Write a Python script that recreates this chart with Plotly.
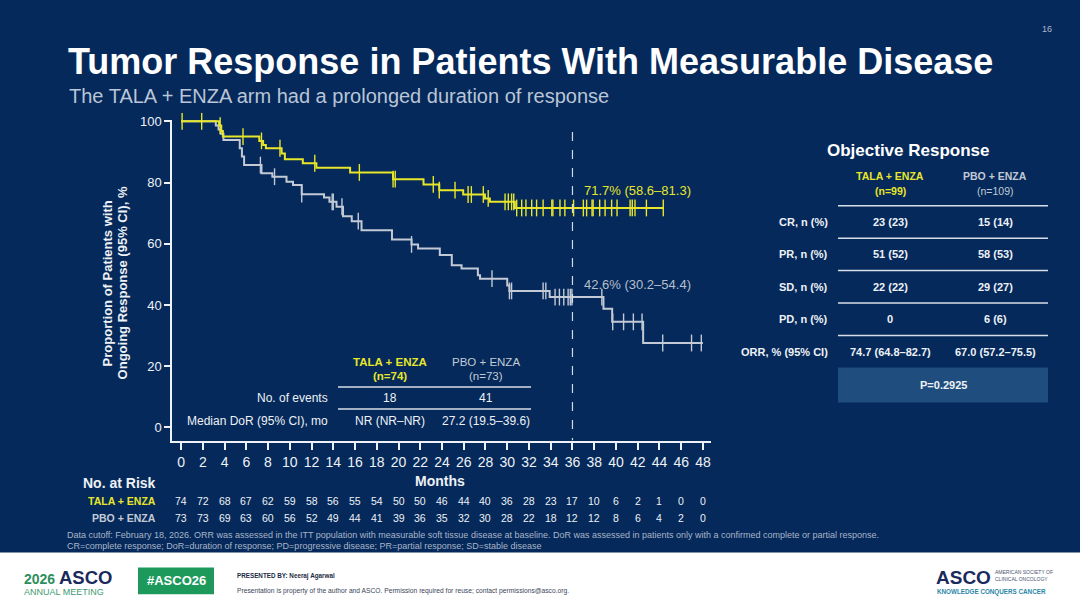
import numpy as np
import plotly.graph_objects as go

W, H = 1080, 608
FONT = "Liberation Sans, Arial, sans-serif"
BG = "#04295A"
YEL = "#E8E62A"
GRY = "#C3CAD6"
WHT = "#EEF1F6"

# ---------- 数据 ----------
months = list(range(0, 49, 2))

# TALA + ENZA：事件时间 / 事件后生存率，删失时间
tala_t = [3.5, 3.7, 3.85, 7.2, 7.55, 7.8, 9.25, 9.55, 11.2, 12.45, 15.55, 19.5,
          22.3, 23.75, 25.95, 27.95, 28.4, 30.7]
tala_s = [98.6, 96.8, 95.0, 93.6, 92.3, 91.2, 89.5, 87.6, 86.3, 84.8, 83.3, 81.1,
          79.4, 77.5, 76.1, 74.8, 73.7, 71.7]
tala_cens = [0.1, 1.9, 3.6, 5.7, 7.4, 9.1, 12.3, 16.4, 19.5, 19.7, 23.2, 23.75,
             25.2, 26.4, 26.7, 27.8, 28.25, 29.8, 30.1, 30.4, 30.6, 30.87, 31.33,
             31.72, 32.25, 32.7, 33.3, 34.1, 34.2, 34.85, 35.3, 36.1, 37.0, 37.3,
             37.8, 37.9, 38.5, 39.0, 39.6, 40.1, 41.3, 41.5, 41.75, 42.8, 44.35]
tala_end = 44.4

# PBO + ENZA
pbo_t = [3.2, 3.45, 3.65, 3.9, 5.4, 5.6, 5.8, 7.4, 8.4, 9.7, 10.3, 11.1, 13.15,
         13.65, 14.3, 14.9, 15.7, 16.6, 19.4, 21.2, 21.8, 23.8, 24.9, 25.8, 27.3,
         27.5, 30.0, 30.2, 33.9, 38.85, 39.65, 42.5]
pbo_s = [98.6, 97.3, 95.9, 93.9, 91.2, 88.5, 85.7, 83.0, 81.9, 80.3, 79.2, 76.2,
         75.1, 73.7, 72.1, 69.0, 67.4, 64.4, 61.4, 59.8, 58.5, 56.3, 53.0, 51.9,
         49.7, 48.6, 46.4, 44.6, 42.6, 38.8, 34.5, 27.6]
pbo_cens = [7.3, 8.6, 11.1, 13.9, 14.0, 14.8, 16.3, 21.2, 28.6, 30.2, 30.4, 33.3,
            33.55, 34.4, 34.8, 35.2, 35.6, 35.8, 35.95, 38.7, 39.7, 40.7, 41.6,
            42.4, 44.3, 46.95, 47.85]
pbo_end = 48.0

risk_tala = [74, 72, 68, 67, 62, 59, 58, 56, 55, 54, 50, 50, 46, 44, 40, 36, 28,
             23, 17, 10, 6, 2, 1, 0, 0]
risk_pbo = [73, 73, 69, 63, 60, 56, 52, 49, 44, 41, 39, 36, 35, 32, 30, 28, 22,
            18, 12, 12, 8, 6, 4, 2, 0]

dor_rows = ["No. of events", "Median DoR (95% CI), mo"]
dor_tala = ["18", "NR (NR\u2013NR)"]
dor_pbo = ["41", "27.2 (19.5\u201339.6)"]

orr_rows = ["CR, n (%)", "PR, n (%)", "SD, n (%)", "PD, n (%)", "ORR, % (95% CI)"]
orr_tala = ["23 (23)", "51 (52)", "22 (22)", "0", "74.7 (64.8\u201382.7)"]
orr_pbo = ["15 (14)", "58 (53)", "29 (27)", "6 (6)", "67.0 (57.2\u201375.5)"]
p_value = "P=0.2925"


def px(x):
    return x / W


def py(y):
    # 上半部分略往上挪，抵消截图里看到的下移
    y = y - 5.5 * max(0.0, 550 - y) / 520
    return 1 - y / H


anns = []


def txt(x, y, s, size, color, anchor="center", xref="paper", angle=0, bold=False):
    anns.append(dict(x=x if xref != "paper" else px(x), y=py(y), xref=xref, yref="paper",
                     text=f"<b>{s}</b>" if bold else s, showarrow=False,
                     xanchor=anchor, yanchor="middle", textangle=angle,
                     font=dict(family=FONT, size=size, color=color)))


def step_at(ts, ss, c):
    i = np.searchsorted(ts, c, side="right") - 1
    return 100.0 if i < 0 else ss[i]


fig = go.Figure()

for ts, ss, cens, end, col, name in [(pbo_t, pbo_s, pbo_cens, pbo_end, GRY, "PBO + ENZA"),
                                     (tala_t, tala_s, tala_cens, tala_end, YEL, "TALA + ENZA")]:
    xs = [0] + ts + [end]
    ys = [100] + ss + [ss[-1]]
    fig.add_trace(go.Scatter(x=xs, y=ys, mode="lines", line_shape="hv",
                             line=dict(color=col, width=2), name=name, cliponaxis=False))
    cy = [step_at(ts, ss, c) for c in cens]
    fig.add_trace(go.Scatter(x=cens, y=cy, mode="markers", cliponaxis=False,
                             marker=dict(symbol="line-ns-open", size=12, color=col,
                                         line=dict(color=col, width=1.4)),
                             showlegend=False))

shapes = []
# 36 个月虚线（从上往下画，保证顶端是实段）
shapes.append(dict(type="line", xref="x", yref="y", x0=36, x1=36, y0=96.5, y1=-4.25,
                   line=dict(color="#D5DBE4", width=1.2, dash="dash")))

txt(36.9, 190, "71.7% (58.6\u201381.3)", 13, YEL, anchor="left", xref="x")
txt(36.9, 284, "42.6% (30.2\u201354.4)", 13, "#B7BFCC", anchor="left", xref="x")

# ---------- 标题 ----------
txt(66, 61, "Tumor Response in Patients With Measurable Disease", 36, "white",
    anchor="left", bold=True)
txt(67, 96, "The TALA + ENZA arm had a prolonged duration of response", 20, "#BAC5D7",
    anchor="left")
txt(1047, 29, "16", 9, "#AEB8C8")

# y 轴标题
txt(107, 283, "Proportion of Patients with", 13, WHT, angle=-90, bold=True)
txt(122, 283, "Ongoing Response (95% CI), %", 13, WHT, angle=-90, bold=True)

txt(440, 480, "Months", 14, WHT, bold=True)

# ---------- 风险人数 ----------
txt(158, 482, "No. at Risk", 14, WHT, anchor="right", bold=True)
txt(158, 500, "TALA + ENZA", 10.5, YEL, anchor="right", bold=True)
txt(158, 517, "PBO + ENZA", 10.5, GRY, anchor="right", bold=True)
for m, a, b in zip(months, risk_tala, risk_pbo):
    txt(m, 500, str(a), 10.5, WHT, xref="x")
    txt(m, 517, str(b), 10.5, WHT, xref="x")

# ---------- DoR 小表 ----------
c1, c2 = 390, 486
txt(c1, 362, "TALA + ENZA", 11.5, YEL, bold=True)
txt(c1, 376, "(n=74)", 11.5, YEL, bold=True)
txt(c2, 362, "PBO + ENZA", 11.5, GRY)
txt(c2, 376, "(n=73)", 11.5, GRY)
for yl in [386.5, 408.5]:
    shapes.append(dict(type="line", xref="paper", yref="paper", x0=px(338), x1=px(531),
                       y0=py(yl), y1=py(yl), line=dict(color="#D8DEE8", width=1.5)))
for i, (r, a, b) in enumerate(zip(dor_rows, dor_tala, dor_pbo)):
    yy = 398 + i * 23
    txt(330, yy, r, 12, WHT, anchor="right")
    txt(c1, yy, a, 12, WHT)
    txt(c2, yy, b, 12, WHT)

# ---------- 客观缓解表 ----------
d1, d2 = 890, 995
txt(908, 150, "Objective Response", 17, "white", bold=True)
txt(d1, 176, "TALA + ENZA", 10.5, YEL, bold=True)
txt(d1, 191, "(n=99)", 10.5, YEL, bold=True)
txt(d2, 176, "PBO + ENZA", 10.5, GRY, bold=True)
txt(d2, 191, "(n=109)", 10.5, GRY)
for yl in [205.5, 237.8, 270.2, 302.6, 335]:
    shapes.append(dict(type="line", xref="paper", yref="paper", x0=px(838), x1=px(1048),
                       y0=py(yl), y1=py(yl), line=dict(color="#D8DEE8", width=1.5)))
for i, (r, a, b) in enumerate(zip(orr_rows, orr_tala, orr_pbo)):
    yy = 221.5 + i * 32.5
    txt(830, yy, r, 11, WHT, anchor="right", bold=True)
    txt(d1, yy, a, 11, WHT, bold=True)
    txt(d2, yy, b, 11, WHT, bold=True)
shapes.append(dict(type="rect", xref="paper", yref="paper", x0=px(838), x1=px(1048),
                   y0=py(402), y1=py(367), fillcolor="#1F4D7E", line=dict(width=0),
                   layer="below"))
txt(943, 385, p_value, 11, WHT, bold=True)

# ---------- 脚注 ----------
txt(65, 534, "Data cutoff: February 18, 2026. ORR was assessed in the ITT population with "
    "measurable soft tissue disease at baseline. DoR was assessed in patients only with a "
    "confirmed complete or partial response.", 9, "#AAB5C8", anchor="left")
txt(65, 545.5, "CR=complete response; DoR=duration of response; PD=progressive disease; "
    "PR=partial response; SD=stable disease", 9, "#AAB5C8", anchor="left")

# ---------- 页脚 ----------
shapes.append(dict(type="rect", xref="paper", yref="paper", x0=0, x1=1, y0=0, y1=py(552),
                   fillcolor="white", line=dict(width=0), layer="below"))
shapes.append(dict(type="rect", xref="paper", yref="paper", x0=px(138), x1=px(214),
                   y0=py(594), y1=py(567), fillcolor="#1D9A5B", line=dict(width=0),
                   layer="below"))
txt(22, 578.5, "2026", 14, "#2D8F5C", anchor="left", bold=True)
txt(57, 577, "ASCO", 18.5, "#1B2A5C", anchor="left", bold=True)
txt(22, 592, "ANNUAL MEETING", 9, "#3E9A72", anchor="left")
txt(176, 580.5, "#ASCO26", 13, "white", bold=True)
txt(235, 576, "PRESENTED BY: Neeraj Agarwal", 6.3, "#1B2A44", anchor="left", bold=True)
txt(235, 591, "Presentation is property of the author and ASCO. Permission required for "
    "reuse; contact permissions@asco.org.", 6.7, "#3A4458", anchor="left")
txt(934, 577, "ASCO", 19, "#1B2A5C", anchor="left", bold=True)
txt(993, 572, "AMERICAN SOCIETY OF", 5, "#4A5470", anchor="left")
txt(993, 579, "CLINICAL ONCOLOGY", 5, "#4A5470", anchor="left")
txt(935, 592, "KNOWLEDGE CONQUERS CANCER", 6.3, "#2A86A8", anchor="left", bold=True)

fig.update_layout(
    width=W, height=H, margin=dict(l=0, r=0, t=0, b=0),
    paper_bgcolor=BG, plot_bgcolor=BG, showlegend=False,
    annotations=anns, shapes=shapes,
    xaxis=dict(domain=[px(172), px(711)], range=[-0.83, 48.74], tickvals=months,
               ticks="outside", ticklen=8, tickwidth=1.5, tickcolor=WHT,
               showline=True, linecolor=WHT, linewidth=1.5, showgrid=False,
               zeroline=False, tickfont=dict(family=FONT, size=14, color=WHT)),
    yaxis=dict(domain=[py(440), py(119.5)], range=[-4.25, 100.49],
               tickvals=[0, 20, 40, 60, 80, 100], ticks="outside", ticklen=6,
               tickwidth=1.5, tickcolor=WHT, showline=True, linecolor=WHT,
               linewidth=1.5, showgrid=False, zeroline=False,
               tickfont=dict(family=FONT, size=13, color=WHT)),
)

# 去掉页面默认 8px 边距、隐藏工具栏
fig.write_html("out.html", config={"displayModeBar": False},
               post_script="document.body.style.margin='0';")
